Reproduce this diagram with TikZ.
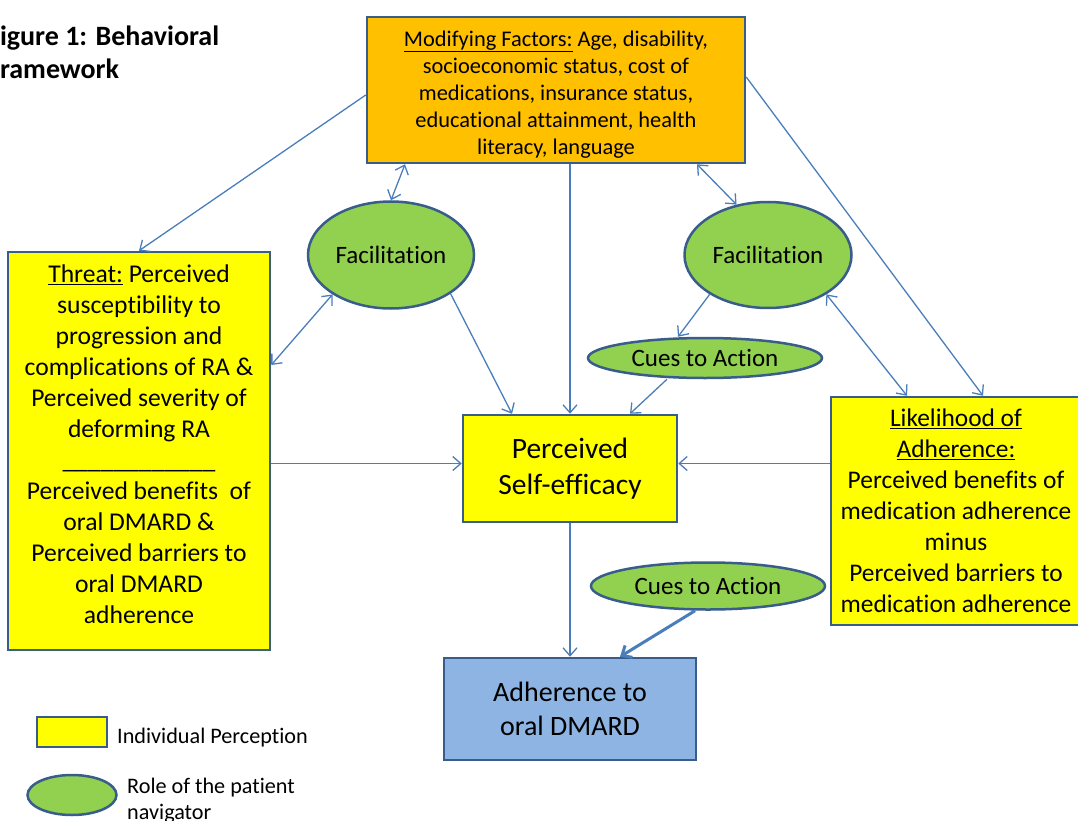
\documentclass[tikz,border=0pt]{standalone}
\usepackage{fontspec}
\setmainfont{Carlito}[Ligatures={NoCommon,NoRare}]
\usepackage{tikz}
\usetikzlibrary{arrows.meta,shapes.geometric}
\definecolor{boxline}{HTML}{385D8A}
\definecolor{arrline}{HTML}{4A7EBB}
\definecolor{percfill}{HTML}{FFFF00}
\definecolor{modfill}{HTML}{FFC000}
\definecolor{navfill}{HTML}{92D050}
\definecolor{adhfill}{HTML}{8DB4E2}

\begin{document}
\begin{tikzpicture}[y=-1pt,x=1pt,
	perc/.style={draw=boxline,line width=2.5pt,fill=percfill,inner sep=0pt,align=center},
	nav/.style={ellipse,draw=boxline,line width=2.5pt,fill=navfill,inner sep=0pt,font=\fontsize{25}{31}\selectfont},
	link/.style={draw=arrline,line width=1.3pt,-{Straight Barb[length=8pt,width=14pt]}},
	both/.style={link,{Straight Barb[length=8pt,width=14pt]}-{Straight Barb[length=8pt,width=14pt]}}]
	\useasboundingbox (0,0) rectangle (1078,821);

	\node[anchor=north west,align=left,inner sep=0pt,font=\bfseries\fontsize{28}{33}\selectfont] (title) at (-13,26) {Figure 1: Behavioral\\Framework};

	\node[perc,fill=modfill,minimum width=378pt,minimum height=146pt,font=\fontsize{22.4}{27}\selectfont] (mod) at (556,90) {\rule{0pt}{24pt}\underline{Modifying Factors:} Age, disability,\\socioeconomic status, cost of\\medications, insurance status,\\educational attainment, health\\literacy, language};
	\node[nav,minimum width=166pt,minimum height=107pt] (facL) at (391,255) {Facilitation};
	\node[nav,minimum width=167pt,minimum height=106pt] (facR) at (768,255) {Facilitation};
	\node[perc,minimum width=262pt,minimum height=398pt,font=\fontsize{25.6}{31}\selectfont] (threat) at (139,451) {\underline{Threat:} Perceived\\susceptibility to\\progression and\\complications of RA \&\\Perceived severity of\\deforming RA\\\_\_\_\_\_\_\_\_\_\_\_\_\\Perceived benefits~ of\\oral DMARD \&\\Perceived barriers to\\oral DMARD\\adherence\rule[-14pt]{0pt}{14pt}};
	\node[nav,minimum width=234pt,minimum height=40pt] (cuesA) at (705,358) {Cues to Action};
	\node[perc,minimum width=214pt,minimum height=107pt,font=\fontsize{29.5}{36}\selectfont] (self) at (570,468.5) {Perceived\\Self-efficacy};
	\node[perc,minimum width=250pt,minimum height=228pt,font=\fontsize{25.4}{31}\selectfont] (like) at (956,511) {\underline{Likelihood of}\\\underline{Adherence:}\\Perceived benefits of\\medication adherence\\minus\\Perceived barriers to\\medication adherence};
	\node[nav,minimum width=234pt,minimum height=47pt] (cuesB) at (708,586) {Cues to Action};
	\node[perc,fill=adhfill,minimum width=252pt,minimum height=102pt,font=\fontsize{28}{34}\selectfont] (adh) at (570,709) {Adherence to\\oral DMARD};

	\node[perc,minimum width=70pt,minimum height=30pt] (keyP) at (72,732) {};
	\node[anchor=west,inner sep=0pt,font=\fontsize{22.2}{26}\selectfont] (keyPtxt) at (117,738) {Individual Perception};
	\node[nav,minimum width=89pt,minimum height=40pt] (keyN) at (72,795) {};
	\node[anchor=north west,align=left,inner sep=0pt,font=\fontsize{22.2}{26}\selectfont] (keyNtxt) at (127,778) {Role of the patient\\navigator};

	\draw[link] ([yshift=-5]mod.west) -- (threat.north);
	\draw[both] ([xshift=-151]mod.south) -- (facL.north);
	\draw[both] ([xshift=141]mod.south) -- (facR.122);
	\draw[link] (mod.south -| self.north) -- (self.north);
	\draw[link] ([yshift=13]mod.east) -- ([xshift=27]like.north);
	\draw[both] (facL.214) -- ([yshift=86]threat.east);
	\draw[link] (facL.-33) -- ([xshift=-58]self.north);
	\draw[link] (facR.214) -- ([xshift=-27]cuesA.north);
	\draw[both] (facR.-34) -- ([xshift=-49]like.north);
	\draw[link] ([xshift=-38]cuesA.south) -- ([xshift=60]self.north);
	\draw[link] ([yshift=5]self.west -| threat.east) -- ([yshift=5]self.west);
	\draw[link] ([yshift=5]self.east -| like.west) -- ([yshift=5]self.east);
	\draw[link] (self.south) -- (adh.north);
	\draw[link,line width=3pt] ([xshift=-13]cuesB.south) -- ([xshift=50]adh.north);
\end{tikzpicture}
\end{document}
